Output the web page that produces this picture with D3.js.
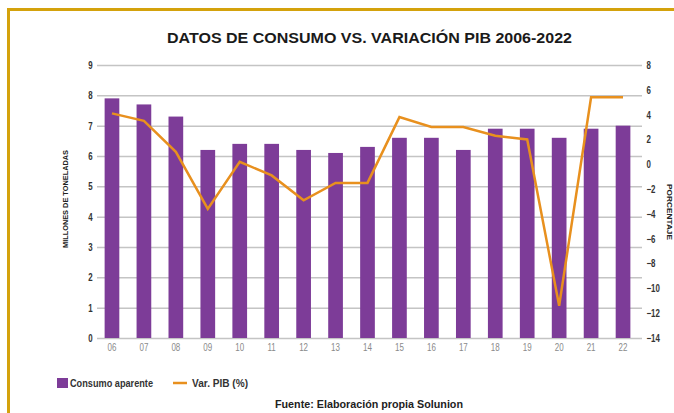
<!DOCTYPE html>
<html>
<head>
<meta charset="utf-8">
<script src="https://cdn.jsdelivr.net/npm/d3@7"></script>
<style>
  body { margin: 0; background: #fff; }
  svg text { font-family: "Liberation Sans", Arial, sans-serif; }
</style>
</head>
<body>
<div id="vis"></div>
<script>
// Data
var years = ['06', '07', '08', '09', '10', '11', '12', '13', '14', '15', '16', '17', '18', '19', '20', '21', '22'];
var consumo = [7.9, 7.7, 7.3, 6.2, 6.4, 6.4, 6.2, 6.1, 6.3, 6.6, 6.6, 6.2, 6.9, 6.9, 6.6, 6.9, 7.0];
var pib = [4.1, 3.5, 1.0, -3.6, 0.2, -0.9, -2.9, -1.5, -1.5, 3.8, 3.0, 3.0, 2.3, 2.0, -11.4, 5.4, 5.4];
var leftTicks = [0, 1, 2, 3, 4, 5, 6, 7, 8, 9];
var rightTicks = [8, 6, 4, 2, 0, -2, -4, -6, -8, -10, -12, -14];

var width = 674, height = 413;
var purple = '#7d3c98', orange = '#e8901e';

var svg = d3.select('#vis').append('svg')
    .attr('width', width)
    .attr('height', height);

// gold frame (top and left edges)
svg.append('path')
    .attr('d', 'M8.5,' + height + 'V9.5H' + width)
    .attr('fill', 'none')
    .attr('stroke', '#d4a20c')
    .attr('stroke-width', 3);

// Scales
var x = d3.scaleBand().domain(years).range([96, 639]).paddingInner(0.54).paddingOuter(0.27);
var yL = d3.scaleLinear().domain([0, 9]).range([338, 65]);
var yR = d3.scaleLinear().domain([-14, 8]).range([338, 65]);

// Title
svg.append('text')
    .attr('x', 369.5).attr('y', 43)
    .attr('text-anchor', 'middle')
    .attr('font-size', 14.5)
    .attr('font-weight', 'bold')
    .attr('fill', '#1a1a1a')
    .attr('textLength', 405)
    .attr('lengthAdjust', 'spacingAndGlyphs')
    .text('DATOS DE CONSUMO VS. VARIACIÓN PIB 2006-2022');

// Left axis with gridlines
var gLeft = svg.append('g')
    .attr('transform', 'translate(97,0)')
    .call(d3.axisLeft(yL).tickValues(leftTicks).tickSize(-545).tickPadding(4).tickFormat(d3.format('d')));
gLeft.select('.domain').remove();
gLeft.selectAll('.tick line').attr('stroke', '#c4c4c4').attr('stroke-width', 1.5);
gLeft.selectAll('.tick text')
    .attr('font-size', 10.5).attr('font-weight', 'bold').attr('fill', '#333')
    .attr('transform', 'scale(0.75,1)').attr('x', -6);

// Right axis labels
var gRight = svg.append('g')
    .attr('transform', 'translate(642,0)')
    .call(d3.axisRight(yR).tickValues(rightTicks).tickSize(0).tickPadding(4).tickFormat(d3.format('d')));
gRight.select('.domain').remove();
gRight.selectAll('.tick text')
    .attr('font-size', 10.5).attr('font-weight', 'bold').attr('fill', '#333')
    .attr('transform', 'scale(0.75,1)').attr('x', 6);

// Bars
svg.append('g').selectAll('rect')
    .data(consumo)
    .enter().append('rect')
    .attr('x', function(d, i) { return x(years[i]); })
    .attr('y', function(d) { return yL(d); })
    .attr('width', x.bandwidth())
    .attr('height', function(d) { return yL(0) - yL(d); })
    .attr('fill', purple);

// X axis labels
var gX = svg.append('g')
    .attr('transform', 'translate(0,340)')
    .call(d3.axisBottom(x).tickSize(0).tickPadding(4));
gX.select('.domain').remove();
gX.selectAll('.tick text')
    .attr('font-size', 10).attr('fill', '#8a8a8a')
    .attr('transform', 'scale(0.8,1)');

// PIB line
var line = d3.line()
    .x(function(d, i) { return x(years[i]) + x.bandwidth() / 2; })
    .y(function(d) { return yR(d); });
svg.append('path')
    .datum(pib)
    .attr('d', line)
    .attr('fill', 'none')
    .attr('stroke', orange)
    .attr('stroke-width', 2.5)
    .attr('stroke-linejoin', 'miter');

// Axis titles
svg.append('text')
    .attr('transform', 'translate(68,199) rotate(-90)')
    .attr('text-anchor', 'middle')
    .attr('font-size', 8).attr('font-weight', 'bold').attr('fill', '#222')
    .attr('textLength', 98).attr('lengthAdjust', 'spacingAndGlyphs')
    .text('MILLONES DE TONELADAS');
svg.append('text')
    .attr('transform', 'translate(667,212) rotate(90)')
    .attr('text-anchor', 'middle')
    .attr('font-size', 8).attr('font-weight', 'bold').attr('fill', '#222')
    .attr('textLength', 56).attr('lengthAdjust', 'spacingAndGlyphs')
    .text('PORCENTAJE');

// Legend
var leg = svg.append('g');
leg.append('rect').attr('x', 57).attr('y', 378).attr('width', 11).attr('height', 10).attr('fill', purple);
leg.append('text').attr('x', 70).attr('y', 387)
    .attr('font-size', 10).attr('font-weight', 'bold').attr('fill', '#333')
    .attr('textLength', 83).attr('lengthAdjust', 'spacingAndGlyphs')
    .text('Consumo aparente');
leg.append('line').attr('x1', 173).attr('x2', 187).attr('y1', 383).attr('y2', 383)
    .attr('stroke', orange).attr('stroke-width', 2.5);
leg.append('text').attr('x', 192).attr('y', 387)
    .attr('font-size', 10).attr('font-weight', 'bold').attr('fill', '#333')
    .attr('textLength', 56).attr('lengthAdjust', 'spacingAndGlyphs')
    .text('Var. PIB (%)');

// Source
svg.append('text')
    .attr('x', 275).attr('y', 408)
    .attr('font-size', 10).attr('font-weight', 'bold').attr('fill', '#222')
    .attr('textLength', 188).attr('lengthAdjust', 'spacingAndGlyphs')
    .text('Fuente: Elaboración propia Solunion');
</script>
</body>
</html>
